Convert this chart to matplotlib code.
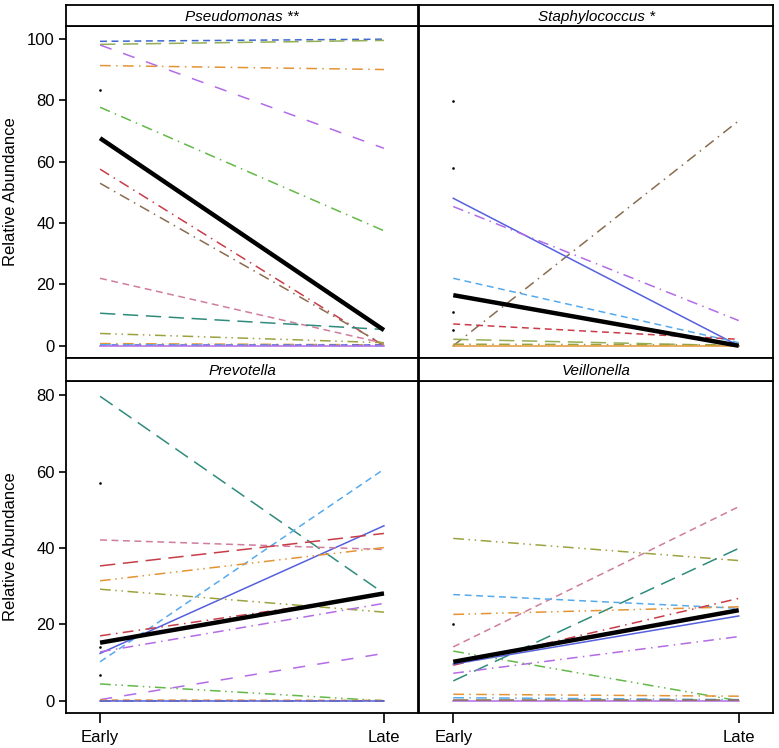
import matplotlib
matplotlib.use("Agg")
from matplotlib import pyplot as plt

plt.rcParams["font.family"] = ["Liberation Sans", "DejaVu Sans"]

# x positions are the two time points
time_labels = ["Early", "Late"]

# subject styles (colour, dash pattern) -- shared by all panels
subject_colors = {
    "blue": "#5560DD", "royal": "#3F67D0", "purple": "#B46BE6", "green": "#63B847",
    "orange": "#E39434", "red": "#C83C48", "brown": "#8A6C4E", "pink": "#D07C9E",
    "teal": "#2F8B7C", "olive": "#9CA23E", "lightblue": "#55AAEE", "olivegreen": "#93AE55",
}
subject_dashes = {
    "solid": None, "dash": (4.5, 3), "longdash": (10, 5), "gapdash": (8, 8),
    "dashdot": (7, 3.5, 1, 3.5), "dashdotdot": (7, 3, 1, 3, 1, 3), "twodash": (3, 2, 8, 2),
}

# Pseudomonas
pseudo_subj = ["royal", "olivegreen", "purple", "orange", "green", "red", "brown",
               "pink", "teal", "olive", "orange", "blue", "lightblue", "purple"]
pseudo_style = ["dash", "longdash", "gapdash", "dashdot", "dashdot", "dashdot", "dashdot",
                "dash", "longdash", "dashdotdot", "dashdot", "dash", "dashdot", "solid"]
pseudo_early = [99.3, 98.3, 98.1, 91.4, 77.8, 57.6, 53.0, 22.0, 10.6, 4.0, 0.7, 0.2, 0.3, 0.0]
pseudo_late = [100.0, 99.6, 64.4, 90.1, 37.5, 0.0, 0.3, 0.8, 5.3, 1.0, 0.3, 0.2, 0.0, 0.0]
pseudo_mean = [67.7, 5.1]
pseudo_dots = [83.4]

# Staphylococcus
staph_subj = ["brown", "blue", "purple", "lightblue", "red", "olivegreen", "olive", "orange"]
staph_style = ["dashdot", "solid", "dashdot", "dash", "dash", "longdash", "dashdot", "solid"]
staph_early = [0.0, 48.1, 45.4, 22.0, 7.1, 2.1, 0.5, 0.0]
staph_late = [73.4, 0.0, 8.2, 1.0, 2.1, 0.0, 0.3, 0.0]
staph_mean = [16.5, 0.0]
staph_dots = [79.7, 57.9, 11.1, 5.1]

# Prevotella
prev_subj = ["teal", "lightblue", "blue", "pink", "red", "orange", "olive", "red",
             "purple", "purple", "green", "brown", "orange", "blue"]
prev_style = ["longdash", "dash", "solid", "dash", "longdash", "dashdotdot", "dashdotdot",
              "dashdot", "dashdot", "gapdash", "dashdotdot", "dashdot", "dash", "solid"]
prev_early = [79.7, 10.2, 12.4, 42.1, 35.3, 31.4, 29.2, 17.0, 12.8, 0.3, 4.4, 0.0, 0.2, 0.0]
prev_late = [28.1, 60.6, 45.8, 39.6, 43.8, 40.1, 23.2, 27.8, 25.5, 12.4, 0.0, 0.0, 0.1, 0.0]
prev_mean = [15.2, 28.1]
prev_dots = [56.9, 14.0, 6.7]

# Veillonella
veil_subj = ["pink", "olive", "teal", "lightblue", "orange", "red", "blue", "purple",
             "green", "orange", "lightblue", "purple", "brown"]
veil_style = ["dash", "dashdotdot", "longdash", "dash", "dashdotdot", "dashdot", "solid",
              "dashdot", "dashdotdot", "dashdot", "dashdot", "solid", "longdash"]
veil_early = [14.1, 42.5, 5.2, 27.8, 22.6, 9.3, 9.6, 7.2, 13.0, 1.7, 0.8, 0.0, 0.1]
veil_late = [50.8, 36.7, 39.9, 24.2, 24.6, 26.8, 22.2, 16.8, 0.0, 1.2, 0.3, 0.0, 0.1]
veil_mean = [10.2, 23.7]
veil_dots = [20.1]

panels = [
    ("Pseudomonas **", pseudo_subj, pseudo_style, pseudo_early, pseudo_late, pseudo_mean, pseudo_dots),
    ("Staphylococcus *", staph_subj, staph_style, staph_early, staph_late, staph_mean, staph_dots),
    ("Prevotella", prev_subj, prev_style, prev_early, prev_late, prev_mean, prev_dots),
    ("Veillonella", veil_subj, veil_style, veil_early, veil_late, veil_mean, veil_dots),
]

W, H = 779, 748
fig = plt.figure(figsize=(W / 100, H / 100), dpi=100)

col_x = [(66, 418), (419, 773)]
row_y = [((5, 26), (26, 358)), ((358, 381), (381, 713))]
row_ylim = [(-4.0, 104.3), (-3.2, 83.7)]
row_ticks = [[0, 20, 40, 60, 80, 100], [0, 20, 40, 60, 80]]


def frac(x0, x1, y0, y1):
    return [x0 / W, 1 - y1 / H, (x1 - x0) / W, (y1 - y0) / H]


for i, (title, subj, style, early, late, mean, dots) in enumerate(panels):
    r, c = divmod(i, 2)
    (sy0, sy1), (py0, py1) = row_y[r]
    x0, x1 = col_x[c]
    ax = fig.add_axes(frac(x0, x1, py0, py1))
    for s, st, e, l in zip(subj, style, early, late):
        line, = ax.plot([0, 1], [e, l], color=subject_colors[s], lw=1.1)
        if subject_dashes[st] is not None:
            line.set_dashes(subject_dashes[st])
    ax.plot([0, 1], mean, color="black", lw=3.2, solid_capstyle="butt", zorder=5)
    ax.plot([0] * len(dots), dots, ls="none", marker="s", ms=0.8, color="black")
    ax.set_xlim(-0.12, 1.12)
    ax.set_ylim(*row_ylim[r])
    for sp in ax.spines.values():
        sp.set_linewidth(1.3)
    if c == 0:
        ax.set_yticks(row_ticks[r])
        ax.tick_params(axis="y", length=5, width=1.2, labelsize=12, pad=3)
        fig.text(11 / W, 1 - (py0 + py1) / 2 / H, "Relative Abundance", rotation=90,
                 ha="center", va="center", fontsize=12)
    else:
        ax.set_yticks([])
    if r == 1:
        ax.set_xticks([0, 1])
        ax.set_xticklabels(time_labels)
        ax.tick_params(axis="x", length=7, width=1.2, labelsize=12, pad=5)
    else:
        ax.set_xticks([])

    sax = fig.add_axes(frac(x0, x1, sy0, sy1))
    sax.set_xticks([])
    sax.set_yticks([])
    for sp in sax.spines.values():
        sp.set_linewidth(1.3)
    sax.text(0.5, 0.45, title, ha="center", va="center", fontsize=11,
             style="italic", transform=sax.transAxes)

fig.savefig("out.png", dpi=100)
